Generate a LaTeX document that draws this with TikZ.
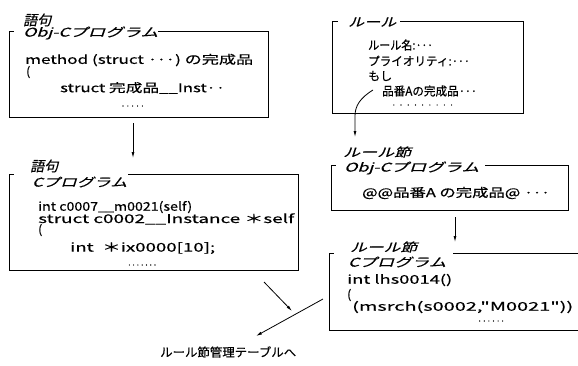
\documentclass[tikz,border=0pt]{standalone}
\usepackage{fontspec}
\usepackage{graphicx}
\setmainfont{Noto Sans CJK JP}
\newfontfamily\jp[FakeBold=0.4]{Noto Sans CJK JP}
\newfontfamily\jpit[FakeSlant=0.22,FakeBold=0.4]{Noto Sans CJK JP}
\usetikzlibrary{arrows.meta,fit}
\newsavebox\fbx
\makeatletter
\newcommand\fitw[2]{\sbox\fbx{#2}\dimen@=\wd\fbx\edef\fitnat{\strip@pt\dimen@}%
  \pgfmathsetmacro\fitxs{#1/\fitnat}\scalebox{\fitxs}[1]{\usebox\fbx}}
\makeatother
\newcommand\dotrow[2]{\hbox to #1pt{\xleaders\hbox to #2pt{\hss.\hss}\hfill}}
\newcommand\mdots{·\kern-0.5pt·\kern-0.5pt·}
\tikzset{
  txt/.style={anchor=west, inner sep=0pt, font=\fontsize{12}{12}\selectfont\jp},
  lbl/.style={anchor=west, inner sep=0pt, font=\fontsize{12}{12}\selectfont\jpit},
  biglbl/.style={anchor=west, inner sep=0pt, font=\fontsize{14}{14}\selectfont\jpit},
  dotsn/.style={anchor=west, inner sep=0pt, font=\fontsize{8}{8}\selectfont\jp},
  boxn/.style={inner sep=0pt, draw=none, rectangle},
  frame/.style={line width=0.9pt},
  arr/.style={-{Latex[length=6pt,width=3pt]}, line width=0.8pt},
}
\begin{document}
\begin{tikzpicture}[x=1pt,y=-1pt]
\useasboundingbox (0,0) rectangle (578,365);

% ---------- box 1 : 語句 Obj-C ----------
\node[boxn, fit={(10,32) (268,117)}] (b1) {};
\node[biglbl] (l1a) at (23,20) {語句};
\node[lbl] (l1b) at (23,33) {\fitw{135}{Obj-Cプログラム}};
\node[txt] (t1a) at (25,60) {\fitw{228}{method (struct \mdots) の完成品}};
\node[txt] (t1b) at (26,72) {(};
\node[txt] (t1c) at (60,88) {\fitw{165}{struct 完成品\_\_Inst··}};
\node[dotsn] (d1) at (120,106) {\dotrow{25}{4.2}};
\draw[frame] ([xshift=4pt]b1.north west) -- (b1.north west) |- (b1.south east) |- ([xshift=-110pt]b1.north east);

% ---------- box 2 : 語句 C ----------
\node[boxn, fit={(10,175) (298,270)}] (b2) {};
\node[biglbl] (l2a) at (30,166) {語句};
\node[lbl] (l2b) at (32,182) {\fitw{95}{Cプログラム}};
\node[txt] (t2a) at (38,207) {\fitw{154}{int c0007\_\_m0021(self)}};
\node[txt] (t2b) at (38,219) {\fitw{256}{struct c0002\_\_Instance ＊self}};
\node[txt] (t2c) at (38,230) {(};
\node[txt] (t2d) at (70,248) {\fitw{145}{int\ \ ＊ix0000[10];}};
\node[dotsn] (d2) at (127,265) {\dotrow{30}{4.2}};
\draw[frame] ([xshift=4pt]b2.north west) -- (b2.north west) |- (b2.south east) |- ([xshift=-170pt]b2.north east);

% ---------- box 3 : ルール ----------
\node[boxn, fit={(333,22) (523,113)}] (b3) {};
\node[lbl] (l3) at (348,22) {\fitw{48}{ルール}};
\node[txt] (t3a) at (368,45) {\fitw{65}{ルール名:\mdots}};
\node[txt] (t3b) at (368,61) {\fitw{102}{プライオリティ:\mdots}};
\node[txt] (t3c) at (368,76) {もし};
\node[txt] (t3d) at (382,91) {\fitw{95}{品番Aの完成品\mdots}};
\node[dotsn] (d3) at (390,105) {\dotrow{65}{7.2}};
\draw[frame] ([xshift=5pt]b3.north west) -- (b3.north west) |- (b3.south east) |- ([xshift=-123pt]b3.north east);

% ---------- box 4 : ルール節 Obj-C ----------
\node[boxn, fit={(332,166) (568,210)}] (b4) {};
\node[lbl] (l4a) at (343,152) {\fitw{68}{ルール節}};
\node[lbl] (l4b) at (344,168) {\fitw{135}{Obj-Cプログラム}};
\node[txt] (t4) at (362,193) {\fitw{188}{@@品番A の完成品@ \mdots}};
\draw[frame] ([xshift=4pt]b4.north west) -- (b4.north west) |- (b4.south east) |- ([xshift=-83pt]b4.north east);

% ---------- box 5 : ルール節 C ----------
\node[boxn, fit={(330,254) (578,330)}] (b5) {};
\node[lbl] (l5a) at (350,247) {\fitw{67}{ルール節}};
\node[lbl] (l5b) at (348,262) {\fitw{98}{Cプログラム}};
\node[txt] (t5a) at (347,280) {\fitw{105}{int lhs0014()}};
\node[txt] (t5b) at (347,295) {(};
\node[txt] (t5c) at (352,307) {\fitw{221}{(msrch(s0002,"M0021"))}};
\node[dotsn] (d5) at (477,321) {\dotrow{28}{4.2}};
\draw[frame] ([xshift=4pt]b5.north west) -- (b5.north west) |- (b5.south east);
\draw[frame] (b5.north east) -- ([xshift=-125pt]b5.north east);

% ---------- bottom text ----------
\node[txt] (bt) at (160,352) {\fitw{136}{ルール節管理テーブルへ}};

% ---------- connectors ----------
\coordinate (a1s) at (133,123);
\coordinate (a1e) at (133,158);
\draw[arr] (a1s) -- (a1e);

\coordinate (a2s) at (373,90);
\coordinate (a2e) at (355,137);
\draw[arr] (a2s) .. controls (360,98) and (355,106) .. (355,116) -- (a2e);

\coordinate (a3s) at (455,217);
\coordinate (a3e) at (455,242);
\draw[arr] (a3s) -- (a3e);

\coordinate (a4s) at (264,282);
\coordinate (a4e) at (292,311);
\draw[arr] (a4s) -- (a4e);

\coordinate (a5s) at (323,299);
\coordinate (a5e) at (256,336);
\draw[arr] (a5s) -- (a5e);
\end{tikzpicture}
\end{document}
